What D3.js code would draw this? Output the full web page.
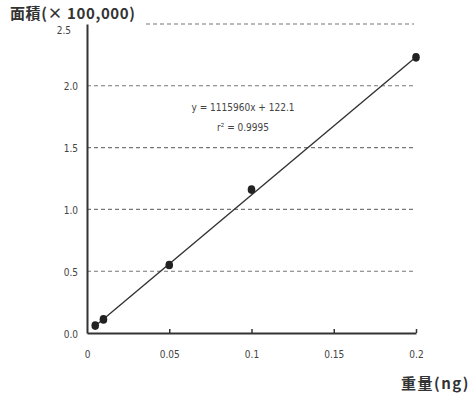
<!DOCTYPE html>
<html><head><meta charset="utf-8">
<script src="https://cdn.jsdelivr.net/npm/d3@7"></script>
<style>
body{margin:0;background:#fff;}
svg{display:block;}
.tk{font-family:"DejaVu Sans Condensed","DejaVu Sans",sans-serif;font-stretch:condensed;font-size:10px;fill:#444;}
.ttl{font-family:"Noto Sans CJK JP",sans-serif;font-size:15px;fill:#333;font-weight:bold;}
</style></head>
<body>
<script>
const weights = [0.005, 0.01, 0.05, 0.1, 0.2];
const areas = [0.06, 0.11, 0.55, 1.16, 2.23];
const slope = 11.1596, intercept = 0.001221;
const xTicks = [0, 0.05, 0.1, 0.15, 0.2];
const xTickLabels = ["0", "0.05", "0.1", "0.15", "0.2"];
const yTicks = [0, 0.5, 1.0, 1.5, 2.0, 2.5];
const yTickLabels = ["0.0", "0.5", "1.0", "1.5", "2.0", "2.5"];
const eq1 = "y = 1115960x + 122.1";
const eq2 = "r² = 0.9995";

const W = 475, H = 399;
const svg = d3.select("body").append("svg").attr("width", W).attr("height", H);
const x = d3.scaleLinear().domain([0, 0.2]).range([87, 416]);
const y = d3.scaleLinear().domain([0, 2.5]).range([333, 24]);

// gridlines
svg.append("g").selectAll("line").data(yTicks.filter(d => d > 0)).join("line")
  .attr("x1", d => d === 2.5 ? 146 : x(0)).attr("x2", 414)
  .attr("y1", d => y(d)).attr("y2", d => y(d))
  .attr("stroke", "#777").attr("stroke-width", 1.1).attr("stroke-dasharray", "4,3");

// y axis
const yAx = svg.append("g").attr("transform", `translate(${x(0)},0)`)
  .call(d3.axisLeft(y).tickValues(yTicks).tickFormat((d, i) => yTickLabels[i]).tickSize(0).tickPadding(9));
yAx.select(".domain").attr("stroke", "#333").attr("stroke-width", 2);
yAx.selectAll("text").attr("class", "tk").attr("dy", "0.4em");
yAx.selectAll(".tick").filter(d => d === 2.5).select("text").attr("font-size", "8px").attr("dx", "-7").attr("dy", "0.9em");

// x axis
const xAx = svg.append("g").attr("transform", `translate(0,${y(0)})`)
  .call(d3.axisBottom(x).tickValues(xTicks).tickFormat((d, i) => xTickLabels[i]).tickSizeInner(-4).tickSizeOuter(0).tickPadding(18));
xAx.select(".domain").attr("stroke", "#333").attr("stroke-width", 2);
xAx.selectAll(".tick line").attr("stroke", "#333").attr("stroke-width", 1.5);
xAx.selectAll(".tick").filter(d => d === 0).select("line").remove();
xAx.selectAll("text").attr("class", "tk");

// fit line
const xs = [weights[0], weights[weights.length - 1]];
svg.append("line")
  .attr("x1", x(xs[0])).attr("y1", y(slope * xs[0] + intercept))
  .attr("x2", x(xs[1])).attr("y2", y(slope * xs[1] + intercept))
  .attr("stroke", "#333").attr("stroke-width", 1.4);

// points
svg.append("g").selectAll("ellipse").data(weights).join("ellipse")
  .attr("cx", d => x(d)).attr("cy", (d, i) => y(areas[i]))
  .attr("rx", 3.8).attr("ry", 4.3).attr("fill", "#222");

// equation
svg.append("text").attr("class", "tk").attr("x", 243).attr("y", 111).attr("text-anchor", "middle").text(eq1);
svg.append("text").attr("class", "tk").attr("x", 243).attr("y", 131).attr("text-anchor", "middle").text(eq2);

// titles
svg.append("text").attr("class", "ttl").attr("x", 10).attr("y", 19).attr("letter-spacing", "0.6px").text("面積(× 100,000)");
svg.append("text").attr("class", "ttl").attr("x", 470).attr("y", 389).attr("text-anchor", "end").attr("letter-spacing", "1.5px").text("重量(ng)");
</script>
</body></html>
